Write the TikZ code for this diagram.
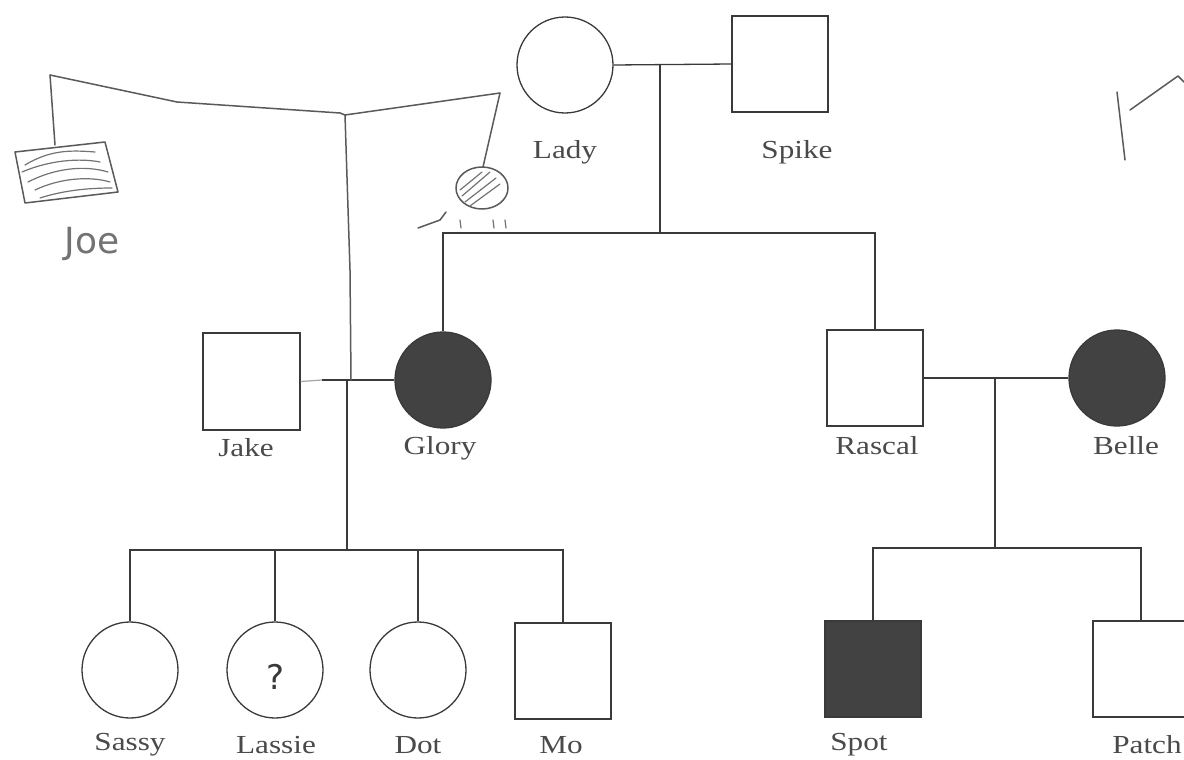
\documentclass[tikz,border=0pt]{standalone}
\usepackage{fontspec}
\setmainfont{Liberation Serif}
\newfontfamily\handfont{DejaVu Sans}
\definecolor{ink}{HTML}{3A3A3A}
\definecolor{fillink}{HTML}{424242}
\definecolor{pencil}{HTML}{5A5A5A}
\definecolor{txt}{HTML}{4A4A4A}
\newcommand{\pn}[1]{\scalebox{1.2}[1]{#1}}
\tikzset{
  line/.style={draw=ink, line width=1.3pt},
  faint/.style={draw=ink!45, line width=1.2pt},
  female/.style={circle, draw=ink, line width=1.3pt, minimum size=96pt, inner sep=0pt, fill=white},
  male/.style={rectangle, draw=ink, line width=1.3pt, minimum size=96pt, inner sep=0pt, fill=white},
  affected/.style={fill=fillink},
  petname/.style={font=\fontsize{26}{26}\selectfont, text=txt, inner sep=0pt},
  hand/.style={draw=pencil, line width=1.5pt, line cap=round, line join=round},
  hatch/.style={draw=pencil!85, line width=1.2pt, line cap=round}
}
\begin{document}
\begin{tikzpicture}[x=1pt,y=-1pt]
\useasboundingbox (0,0) rectangle (1184,760);
\fill[white] (0,0) rectangle (1184,760);

% ---- people ----
\node[female] (lady) at (565,65) {};
\node[male] (spike) at (780,64) {};
\node[female,affected] (glory) at (443,380) {};
\node[male, minimum size=97pt] (jake) at (251.5,381.5) {};
\node[male] (rascal) at (875,378) {};
\node[female,affected] (belle) at (1117,378) {};
\node[female] (sassy) at (130,670) {};
\node[female] (lassie) at (275,670) {};
\node[female] (dot) at (418,670) {};
\node[male] (mo) at (563,671) {};
\node[male,affected] (spot) at (873,669) {};
\node[male] (patch) at (1141,669) {};
\node[font=\handfont\fontsize{34}{34}\selectfont, text=ink, inner sep=0pt] (lassieq) at (276,677) {?};

% ---- labels ----
\node[petname] (llady) at (565,152) {\pn{Lady}};
\node[petname] (lspike) at (797,152) {\pn{Spike}};
\node[petname] (ljake) at (246,448) {\pn{Jake}};
\node[petname] (lglory) at (440,448) {\pn{Glory}};
\node[petname] (lrascal) at (877,446) {\pn{Rascal}};
\node[petname] (lbelle) at (1126,446) {\pn{Belle}};
\node[petname] (lsassy) at (130,745) {\pn{Sassy}};
\node[petname] (llassie) at (276,745) {\pn{Lassie}};
\node[petname] (ldot) at (418,745) {\pn{Dot}};
\node[petname] (lmo) at (561,745) {\pn{Mo}};
\node[petname] (lspot) at (859,745) {\pn{Spot}};
\node[petname] (lpatch) at (1147,745) {\pn{Patch}};

% ---- Lady x Spike ----
\coordinate (m1) at (660,65);
\coordinate (s1) at (660,233);
\coordinate (s1l) at (443,233);
\coordinate (s1r) at (875,233);
\draw[line] (lady.east) -- (spike.west);
\draw[line] (m1) -- (s1);
\draw[line] (glory.north) -- (s1l) -- (s1r) -- (rascal.north);

% ---- Jake x Glory ----
\coordinate (m2a) at (322,380);
\coordinate (m2) at (347,380);
\coordinate (s2) at (347,550);
\coordinate (s2l) at (130,550);
\coordinate (s2r) at (563,550);
\draw[faint] (jake.east) -- (m2a);
\draw[line] (m2a) -- (glory.west);
\draw[line] (m2) -- (s2);
\draw[line] (sassy.north) -- (s2l) -- (s2r) -- (mo.north);
\coordinate (c2) at (275,550);
\coordinate (c3) at (418,550);
\draw[line] (c2) -- (lassie.north);
\draw[line] (c3) -- (dot.north);

% ---- Rascal x Belle ----
\coordinate (m3) at (995,378);
\coordinate (s3) at (995,548);
\coordinate (s3l) at (873,548);
\coordinate (s3r) at (1141,548);
\draw[line] (rascal.east) -- (belle.west);
\draw[line] (m3) -- (s3);
\draw[line] (spot.north) -- (s3l) -- (s3r) -- (patch.north);

% ---- hand-drawn additions ----
\coordinate (hj) at (345,115);
\coordinate (hl) at (50,75);
\coordinate (hr) at (500,93);
\coordinate (hdown) at (351,380);
\draw[hand] (hl) -- (177,102) -- (340,113) -- (hj) -- (hr);
\draw[hand] (hj) -- (350,270) -- (hdown);
\draw[hand] (hl) -- (55,145);
\draw[hand] (hr) -- (483,167);
% Joe's box
\draw[hand] (15,152) -- (105,142) -- (118,192) -- (25,203) -- cycle;
\draw[hatch] (25,165) .. controls (50,150) and (70,150) .. (95,152);
\draw[hatch] (22,172) .. controls (50,160) and (80,158) .. (100,162);
\draw[hatch] (28,182) .. controls (55,168) and (85,165) .. (108,172);
\draw[hatch] (35,190) .. controls (60,178) and (90,176) .. (110,182);
\draw[hatch] (40,198) .. controls (65,190) and (90,188) .. (112,188);
\node[font=\handfont\fontsize{36}{36}\selectfont, text=pencil!85, inner sep=0pt] (joe) at (92,244) {Joe};
% small circle
\draw[hand] (482,188) circle[x radius=26pt, y radius=21pt];
\draw[hatch] (462,196) -- (490,172);
\draw[hatch] (465,202) -- (496,178);
\draw[hatch] (470,206) -- (500,184);
\draw[hatch] (460,190) -- (482,172);
\draw[hand] (418,228) -- (440,220) -- (446,212);
\draw[hatch] (460,220) -- (461,228);
\draw[hatch] (493,220) -- (494,228);
\draw[hatch] (505,220) -- (506,228);
% top-right mark
\draw[hand] (1117,92) -- (1125,160);
\draw[hand] (1130,110) -- (1178,76) -- (1184,82);
\end{tikzpicture}
\end{document}
